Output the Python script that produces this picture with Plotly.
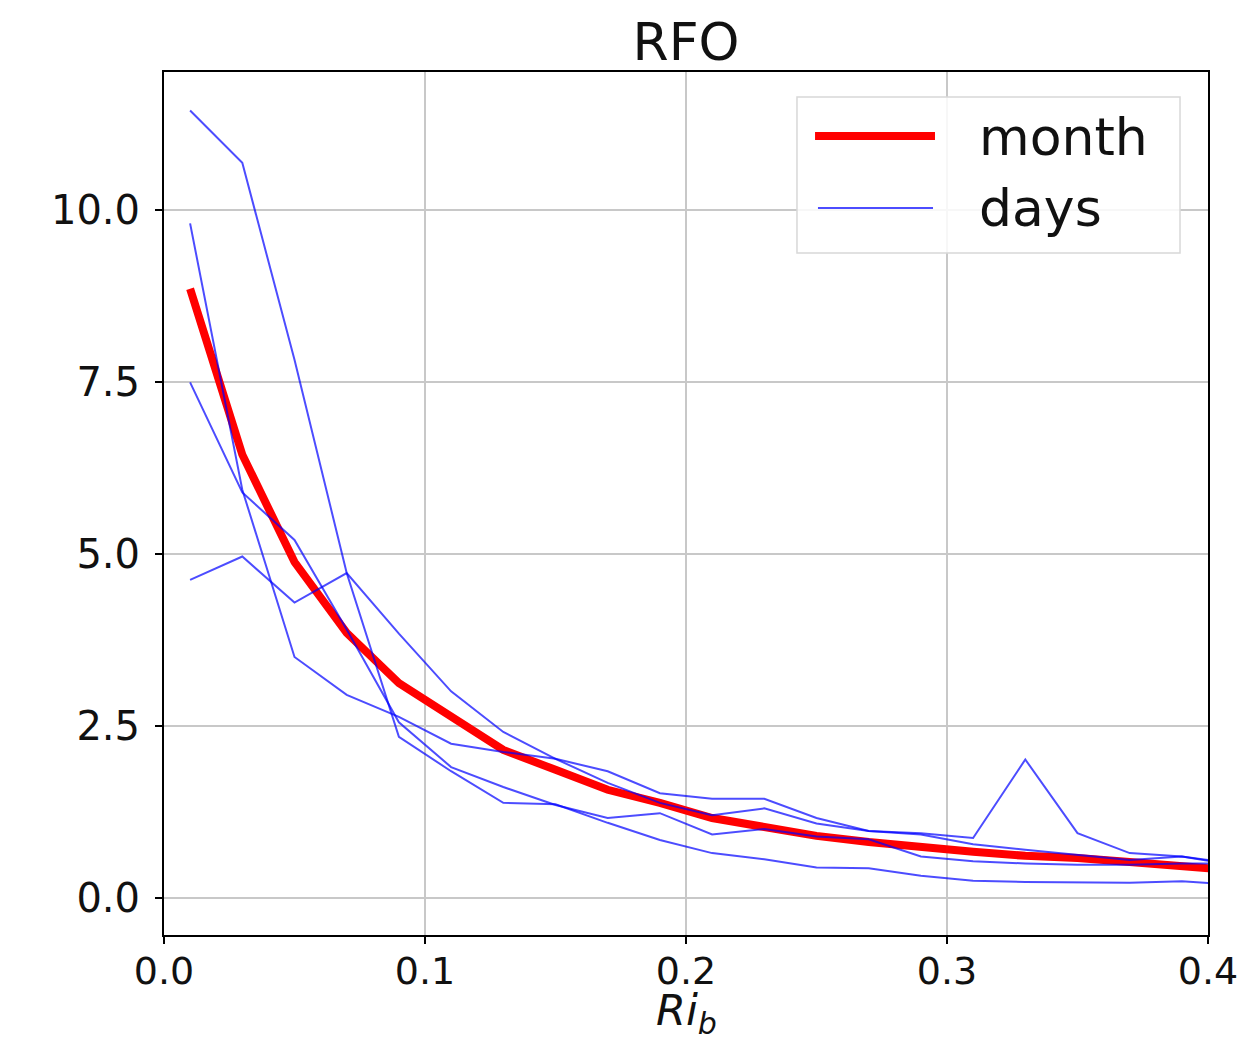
import plotly.graph_objects as go

x_vals = [0.01, 0.03, 0.05, 0.07, 0.09, 0.11, 0.13, 0.15, 0.17, 0.19, 0.21,
          0.23, 0.25, 0.27, 0.29, 0.31, 0.33, 0.35, 0.37, 0.39, 0.41]

month = [8.85, 6.44, 4.88, 3.85, 3.12, 2.62, 2.15, 1.86, 1.57, 1.38, 1.16,
         1.03, 0.90, 0.81, 0.73, 0.67, 0.61, 0.58, 0.52, 0.46, 0.40]

day1 = [11.44, 10.68, 7.82, 4.72, 2.34, 1.84, 1.38, 1.36, 1.09, 0.84, 0.65,
        0.56, 0.44, 0.43, 0.32, 0.25, 0.23, 0.22, 0.22, 0.24, 0.19]
day2 = [9.80, 5.93, 3.50, 2.95, 2.63, 2.24, 2.12, 2.02, 1.84, 1.52, 1.44,
        1.44, 1.16, 0.97, 0.94, 0.87, 2.01, 0.94, 0.65, 0.60, 0.48]
day3 = [7.49, 5.89, 5.20, 3.90, 2.55, 1.90, 1.61, 1.35, 1.16, 1.23, 0.92,
        1.00, 0.89, 0.85, 0.60, 0.53, 0.50, 0.48, 0.48, 0.50, 0.50]
day4 = [4.62, 4.96, 4.29, 4.72, 3.84, 3.00, 2.41, 2.02, 1.67, 1.38, 1.20,
        1.30, 1.08, 0.97, 0.92, 0.78, 0.70, 0.62, 0.55, 0.60, 0.50]

days = [day1, day2, day3, day4]

x_ticks = [0.0, 0.1, 0.2, 0.3, 0.4]
y_ticks = [0.0, 2.5, 5.0, 7.5, 10.0]

legend_labels = ["month", "days"]

FONT = "DejaVu Sans"
RED = "#ff0000"
BLUE = "rgba(0,0,255,0.7)"

fig = go.Figure()
fig.add_trace(go.Scatter(x=x_vals, y=month, mode="lines", name=legend_labels[0],
                         showlegend=False,
                         line=dict(color=RED, width=8)))
for i, d in enumerate(days):
    fig.add_trace(go.Scatter(x=x_vals, y=d, mode="lines", name=legend_labels[1],
                             legendgroup="days", showlegend=False,
                             line=dict(color=BLUE, width=2)))

axis_common = dict(showline=True, linecolor="black", linewidth=2, mirror=True,
                   ticks="outside", ticklen=7, tickwidth=1.5, tickcolor="black",
                   showgrid=True, gridcolor="#c8c8c8", gridwidth=1.5,
                   zeroline=False, automargin=False, ticklabeloverflow="allow")

fig.update_xaxes(range=[0, 0.4], tickvals=x_ticks, tickformat=".1f",
                 ticklabelstandoff=-6,
                 tickfont=dict(family=FONT, size=38, color="#111"), **axis_common)
fig.update_yaxes(range=[-0.54, 12.0], tickvals=y_ticks, tickformat=".1f",
                 ticklabelstandoff=7,
                 tickfont=dict(family=FONT, size=40, color="#111"), **axis_common)

# legend box (drawn manually to match the long line samples)
fig.add_shape(type="rect", xref="paper", yref="paper",
              x0=0.6063, x1=0.9732, y0=0.7903, y1=0.9710,
              line=dict(color="#d8d8d8", width=1.5),
              fillcolor="rgba(255,255,255,0.85)", layer="above")
fig.add_shape(type="line", xref="paper", yref="paper",
              x0=0.6236, x1=0.7385, y0=0.9258, y1=0.9258,
              line=dict(color=RED, width=8), layer="above")
fig.add_shape(type="line", xref="paper", yref="paper",
              x0=0.6264, x1=0.7366, y0=0.8424, y1=0.8424,
              line=dict(color=BLUE, width=2), layer="above")
fig.add_annotation(text=legend_labels[0], xref="paper", yref="paper",
                   x=0.7787, y=0.9247, xanchor="left", yanchor="middle",
                   showarrow=False, font=dict(family=FONT, size=52, color="#111"))
fig.add_annotation(text=legend_labels[1], xref="paper", yref="paper",
                   x=0.7787, y=0.8424, xanchor="left", yanchor="middle",
                   showarrow=False, font=dict(family=FONT, size=52, color="#111"))

# x-axis title
fig.add_annotation(text="<i>Ri</i><sub><i>b</i></sub>", xref="paper", yref="paper",
                   x=0.5, y=-0.0904, xanchor="center", yanchor="middle",
                   showarrow=False, font=dict(family=FONT, size=43, color="#111"))

fig.update_layout(
    width=1246, height=1043,
    margin=dict(l=164, r=38, t=72, b=108, autoexpand=False),
    paper_bgcolor="white", plot_bgcolor="white",
    title=dict(text="RFO", x=0.5, xanchor="center", xref="paper",
               y=1 - 42 / 1043, yanchor="middle", yref="container",
               font=dict(family=FONT, size=52, color="#111")),
    showlegend=False,
)

fig.write_html("out.html", config={"displayModeBar": False},
               post_script="document.body.style.margin='0';"
                           "document.body.style.overflow='hidden';")
